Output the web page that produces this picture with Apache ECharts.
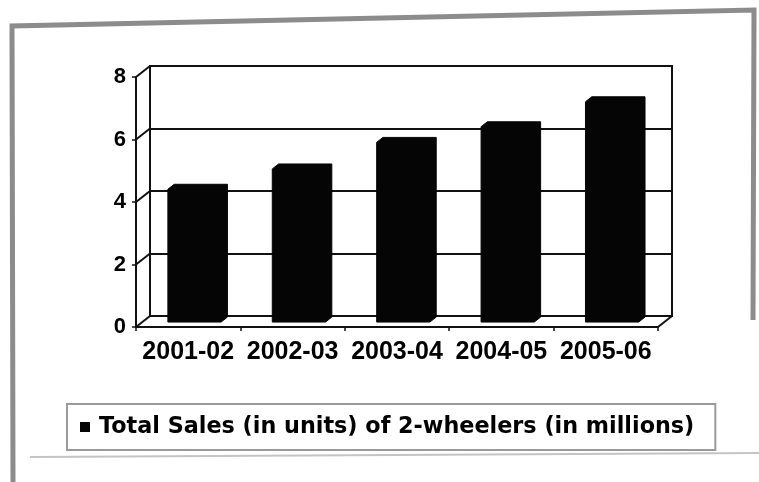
<!DOCTYPE html>
<html>
<head>
<meta charset="utf-8">
<script src="https://cdn.jsdelivr.net/npm/echarts@6/dist/echarts.min.js"></script>
<style>
  html, body { margin: 0; padding: 0; background: #fff; }
  #chart { width: 759px; height: 482px; }
</style>
</head>
<body>
<div id="chart"></div>
<script>
// Two-wheeler sales by financial year (millions of units)
const categories = ['2001-02', '2002-03', '2003-04', '2004-05', '2005-06'];
const salesMillions = [4.25, 4.9, 5.75, 6.25, 7.05];
const yTicks = [0, 2, 4, 6, 8];
const seriesName = 'Total Sales (in units) of 2-wheelers (in millions)';

// Depth vector from the front plane to the back wall (pixels)
const DX = 14, DY = 11;
// Bar faces as fractions of the depth, measured from the back wall
const BACK_T = 0.1, FRONT_T = 0.55;

const FONT = '"Liberation Sans", Arial, sans-serif';
const LEGEND_FONT = '"DejaVu Sans", Verdana, sans-serif';

const chart = echarts.init(document.getElementById('chart'));

// Left side wall and floor edges joining the front plane to the back wall
function renderDepthLines(params, api) {
  const cs = params.coordSys;
  const v = api.value(1);
  const y = api.coord([0, v])[1];
  const style = { stroke: '#111', lineWidth: 2 };
  const children = [{
    type: 'line',
    shape: { x1: cs.x - DX, y1: y + DY, x2: cs.x, y2: y },
    style: style
  }];
  if (v === 0) {
    const xr = cs.x + cs.width;
    children.push({
      type: 'line',
      shape: { x1: xr - DX, y1: y + DY, x2: xr, y2: y },
      style: style
    });
  }
  return { type: 'group', children: children };
}

// Column drawn as a solid prism: front face plus top and side faces
function renderColumn(params, api) {
  const idx = api.value(0);
  const top = api.coord([idx, api.value(1)]);
  const base = api.coord([idx, 0]);
  const band = api.size([1, 0])[0];
  const w = band * 0.51;
  const fx = -FRONT_T * DX, fy = FRONT_T * DY;
  const bx = -BACK_T * DX, by = BACK_T * DY;
  const x0 = top[0] - w / 2;
  const x1 = top[0] + w / 2;
  const pts = [
    [x0 + fx, base[1] + fy],
    [x0 + fx, top[1] + fy],
    [x0 + bx, top[1] + by],
    [x1 + bx, top[1] + by],
    [x1 + bx, base[1] + by],
    [x1 + fx, base[1] + fy]
  ];
  return {
    type: 'polygon',
    shape: { points: pts },
    style: { fill: '#050505', stroke: '#050505', lineWidth: 1 }
  };
}

const option = {
  backgroundColor: '#fff',
  animation: false,
  textStyle: { fontFamily: FONT },
  grid: [
    // back wall
    { left: 150, top: 66, width: 522, height: 250, show: true,
      borderColor: '#111', borderWidth: 2, backgroundColor: 'transparent' },
    // front plane carrying the axes and labels
    { left: 136, top: 77, width: 522, height: 250 }
  ],
  xAxis: [
    { type: 'category', gridIndex: 0, data: categories,
      axisLine: { show: false }, axisTick: { show: false },
      axisLabel: { show: false } },
    { type: 'category', gridIndex: 1, data: categories,
      axisLine: { show: true, lineStyle: { color: '#111', width: 2 } },
      axisTick: { show: true, length: 4, interval: 0,
                  lineStyle: { color: '#111', width: 1.5 } },
      axisLabel: { color: '#000', fontSize: 25, fontWeight: 'bold',
                   fontFamily: FONT, margin: 13, interval: 0,
                   hideOverlap: false } }
  ],
  yAxis: [
    { type: 'value', gridIndex: 0, min: 0, max: 8, interval: 2,
      axisLine: { show: false }, axisTick: { show: false },
      axisLabel: { show: false },
      splitLine: { show: true, lineStyle: { color: '#111', width: 2 } } },
    { type: 'value', gridIndex: 1, min: 0, max: 8, interval: 2,
      axisLine: { show: true, lineStyle: { color: '#111', width: 2 } },
      axisTick: { show: true, length: 4, lineStyle: { color: '#111', width: 1.5 } },
      axisLabel: { color: '#000', fontSize: 22, fontWeight: 'bold',
                   fontFamily: FONT, margin: 10 },
      splitLine: { show: false } }
  ],
  legend: {
    data: [seriesName],
    left: 67, top: 404,
    orient: 'horizontal',
    icon: 'rect',
    itemWidth: 10, itemHeight: 10,
    padding: [12, 21, 12, 13],
    borderColor: '#9a9a9a', borderWidth: 2,
    selectedMode: false,
    textStyle: { color: '#000', fontSize: 22.3, fontWeight: 'bold',
                 fontFamily: LEGEND_FONT, padding: [0, 0, 0, 4] }
  },
  series: [
    {
      type: 'custom', name: 'depth', silent: true,
      xAxisIndex: 0, yAxisIndex: 0,
      renderItem: renderDepthLines,
      data: yTicks.map(v => [0, v]),
      z: 1
    },
    {
      type: 'custom', name: seriesName,
      xAxisIndex: 0, yAxisIndex: 0,
      itemStyle: { color: '#050505' },
      renderItem: renderColumn,
      encode: { x: 0, y: 1 },
      data: salesMillions.map((v, i) => [i, v]),
      z: 3
    }
  ],
  graphic: [
    // outer frame
    { type: 'polyline', silent: true,
      shape: { points: [[13, 482], [12, 26], [754, 10], [753, 320]] },
      style: { stroke: '#8c8c8c', lineWidth: 5, fill: null } },
    { type: 'line', silent: true,
      shape: { x1: 30, y1: 457, x2: 759, y2: 453 },
      style: { stroke: '#c4c4c4', lineWidth: 2 } }
  ]
};

chart.setOption(option);
</script>
</body>
</html>
